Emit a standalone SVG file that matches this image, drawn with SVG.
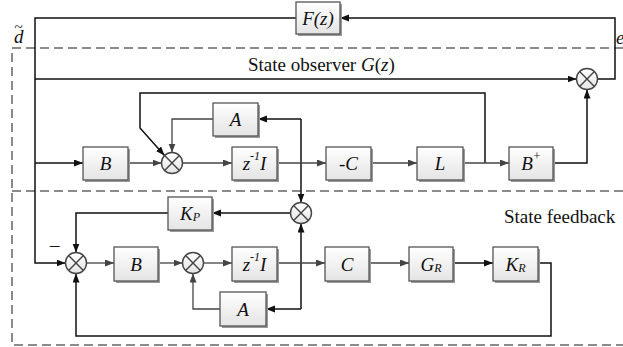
<svg xmlns="http://www.w3.org/2000/svg" width="623" height="347" viewBox="0 0 623 347" font-family="'Liberation Serif', 'Times New Roman', serif">
<defs>
<linearGradient id="bg" x1="0" y1="0" x2="0" y2="1">
<stop offset="0" stop-color="#ffffff"/>
<stop offset="1" stop-color="#e4e4e4"/>
</linearGradient>
<marker id="ah" markerUnits="userSpaceOnUse" markerWidth="10" markerHeight="8" refX="9" refY="3.5" orient="auto">
<path d="M0,0 L9,3.5 L0,7 z" fill="#111"/>
</marker>
<marker id="ag" markerUnits="userSpaceOnUse" markerWidth="10" markerHeight="8" refX="9" refY="3.5" orient="auto">
<path d="M0,0 L9,3.5 L0,7 z" fill="#444"/>
</marker>
</defs>
<style>
.box rect.b{fill:url(#bg);stroke:#555;stroke-width:1.3}
.box rect.s{fill:#9a9a9a;stroke:none}
.lbl{font-family:'Liberation Serif','Times New Roman',serif;font-style:italic;font-size:19px;text-anchor:middle;dominant-baseline:central;fill:#111}
.sum circle{fill:url(#bg);stroke:#444;stroke-width:1.4}
.sum path{stroke:#444;stroke-width:1.4}
.k{fill:none;stroke:#111;stroke-width:1.5;marker-end:url(#ah)}
.g{fill:none;stroke:#444;stroke-width:1.3;marker-end:url(#ag)}
.dash{fill:none;stroke:#666;stroke-width:1.5;stroke-dasharray:9,5}
.txt{font-family:'Liberation Serif','Times New Roman',serif;font-size:19px;fill:#111}
</style>

<g id="regions">
<path class="dash" d="M623,48 L12,48 L12,345 L623,345"/>
<path class="dash" d="M12,191 L623,191"/>
<text class="txt" x="248" y="71">State observer <tspan font-style="italic">G</tspan>(<tspan font-style="italic">z</tspan>)</text>
<text class="txt" x="504" y="223">State feedback</text>
<text class="txt" x="14" y="43" font-style="italic" font-size="19">d<tspan dx="-9" dy="-11" font-style="normal" font-size="15">~</tspan></text>
<text class="txt" x="616" y="44" font-style="italic" font-size="14">e</text>
<text class="txt" x="50" y="251" font-size="9" fill="#555">–</text>
</g>

<g id="connectors">
<path class="k" d="M597.5,79 L615,79 L615,18 L340,18"/>
<path class="k" d="M296,18 L35,18 L35,263 L65.5,263"/>
<path class="k" d="M35,79 L576.5,79"/>
<path class="k" d="M35,163 L83,163"/>
<path class="k" d="M553,163 L587,163 L587,89.5"/>
<path class="k" d="M485,163 L485,93 L140,93 L140,128 L164.5,155.5"/>
<path class="k" d="M301,119 L301,202.5"/>
<path class="k" d="M301,119 L258,119"/>
<path class="k" d="M301,309 L301,223.5"/>
<path class="k" d="M301,309 L266,309"/>
<path class="k" d="M290.5,213 L212,213"/>
<path class="k" d="M168,213 L76,213 L76,252.5"/>
<path class="k" d="M538,263 L551,263 L551,336 L76,336 L76,273.5"/>
<path class="k" d="M453,263 L493,263"/>
<path class="g" d="M128,163 L161.5,163"/>
<path class="g" d="M182.5,163 L232,163"/>
<path class="g" d="M277,163 L326,163"/>
<path class="g" d="M371,163 L417,163"/>
<path class="g" d="M463,163 L509,163"/>
<path class="g" d="M213,119 L172,119 L172,152.5"/>
<path class="g" d="M86.5,263 L114,263"/>
<path class="g" d="M158,263 L182.5,263"/>
<path class="g" d="M203.5,263 L232,263"/>
<path class="g" d="M277,263 L325,263"/>
<path class="g" d="M369,263 L409,263"/>
<path class="g" d="M220,309 L193,309 L193,273.5"/>
</g>

<g id="F" class="box"><rect class="s" x="298" y="4" width="44" height="32"/><rect class="b" x="296" y="2" width="44" height="32"/><text class="lbl" x="318" y="18">F(z)</text></g>
<g id="B1" class="box"><rect class="s" x="85" y="149" width="45" height="33"/><rect class="b" x="83" y="147" width="45" height="33"/><text class="lbl" x="105.5" y="163">B</text></g>
<g id="A1" class="box"><rect class="s" x="215" y="105" width="45" height="33"/><rect class="b" x="213" y="103" width="45" height="33"/><text class="lbl" x="235.5" y="119">A</text></g>
<g id="Z1" class="box"><rect class="s" x="234" y="149" width="45" height="33"/><rect class="b" x="232" y="147" width="45" height="33"/><text class="lbl" x="254.5" y="163">z<tspan font-size="12" dy="-7">-1</tspan><tspan dy="7">I</tspan></text></g>
<g id="mC" class="box"><rect class="s" x="328" y="149" width="45" height="33"/><rect class="b" x="326" y="147" width="45" height="33"/><text class="lbl" x="348.5" y="163">-C</text></g>
<g id="L" class="box"><rect class="s" x="419" y="149" width="46" height="33"/><rect class="b" x="417" y="147" width="46" height="33"/><text class="lbl" x="440" y="163">L</text></g>
<g id="Bp" class="box"><rect class="s" x="511" y="149" width="44" height="33"/><rect class="b" x="509" y="147" width="44" height="33"/><text class="lbl" x="531" y="163">B<tspan font-size="12" dy="-7">+</tspan></text></g>
<g id="KP" class="box"><rect class="s" x="170" y="199" width="44" height="33"/><rect class="b" x="168" y="197" width="44" height="33"/><text class="lbl" x="190" y="213">K<tspan font-size="12" dy="4">P</tspan></text></g>
<g id="B2" class="box"><rect class="s" x="116" y="249" width="44" height="34"/><rect class="b" x="114" y="247" width="44" height="34"/><text class="lbl" x="136" y="264">B</text></g>
<g id="Z2" class="box"><rect class="s" x="234" y="249" width="45" height="34"/><rect class="b" x="232" y="247" width="45" height="34"/><text class="lbl" x="254.5" y="264">z<tspan font-size="12" dy="-7">-1</tspan><tspan dy="7">I</tspan></text></g>
<g id="A2" class="box"><rect class="s" x="222" y="294" width="46" height="34"/><rect class="b" x="220" y="292" width="46" height="34"/><text class="lbl" x="243" y="309">A</text></g>
<g id="C" class="box"><rect class="s" x="327" y="249" width="44" height="34"/><rect class="b" x="325" y="247" width="44" height="34"/><text class="lbl" x="347" y="264">C</text></g>
<g id="GR" class="box"><rect class="s" x="411" y="249" width="44" height="34"/><rect class="b" x="409" y="247" width="44" height="34"/><text class="lbl" x="431" y="264">G<tspan font-size="12" dy="4">R</tspan></text></g>
<g id="KR" class="box"><rect class="s" x="495" y="249" width="45" height="34"/><rect class="b" x="493" y="247" width="45" height="34"/><text class="lbl" x="515.5" y="264">K<tspan font-size="12" dy="4">R</tspan></text></g>

<g id="S0" class="sum"><circle cx="587" cy="79" r="10.5"/><path d="M579.6,71.6 L594.4,86.4 M594.4,71.6 L579.6,86.4"/></g>
<g id="S1" class="sum"><circle cx="172" cy="163" r="10.5"/><path d="M164.6,155.6 L179.4,170.4 M179.4,155.6 L164.6,170.4"/></g>
<g id="S2" class="sum"><circle cx="301" cy="213" r="10.5"/><path d="M293.6,205.6 L308.4,220.4 M308.4,205.6 L293.6,220.4"/></g>
<g id="S3" class="sum"><circle cx="76" cy="263" r="10.5"/><path d="M68.6,255.6 L83.4,270.4 M83.4,255.6 L68.6,270.4"/></g>
<g id="S4" class="sum"><circle cx="193" cy="263" r="10.5"/><path d="M185.6,255.6 L200.4,270.4 M200.4,255.6 L185.6,270.4"/></g>
</svg>
